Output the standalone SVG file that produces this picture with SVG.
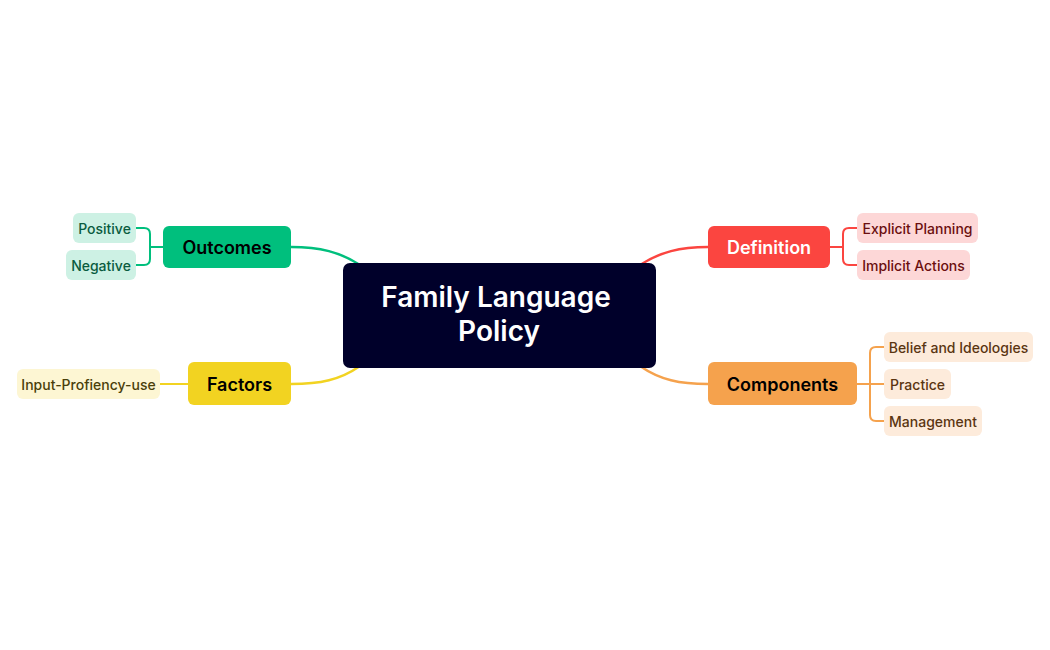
<svg xmlns="http://www.w3.org/2000/svg" width="1050" height="650" viewBox="0 0 1050 650">
<style>
text{font-family:Inter,"Noto Sans","Liberation Sans",sans-serif;text-anchor:middle;dominant-baseline:central}
.l1{font-size:18px;font-weight:600}
.l2{font-size:14px;font-weight:500}
.c{fill:none;stroke-width:2.5;stroke-linecap:round}
.s{fill:none;stroke-width:2}
</style>
<rect width="1050" height="650" fill="#fff"/>
<g id="connectors">
<path class="c" stroke="#00bf7d" d="M291,247 C320,247 340,252 360,265"/>
<path class="c" stroke="#fb4540" d="M708,247 C680,247 660,252 640,265"/>
<path class="c" stroke="#f2d321" d="M291,384 C320,384 340,380 360,366"/>
<path class="c" stroke="#f5a24d" d="M708,384 C680,384 660,380 640,366"/>
<path class="s" stroke="#00bf7d" d="M163,247 H150 M136,228 H144 Q150,228 150,234 V259 Q150,265 144,265 H136"/>
<path class="s" stroke="#fb4540" d="M830,247 H843 M857,228 H849 Q843,228 843,234 V259 Q843,265 849,265 H857"/>
<path class="s" stroke="#f5a24d" d="M857,384 H884 M884,347 H876 Q870,347 870,353 V415 Q870,421 876,421 H884"/>
<path class="s" stroke="#f2d321" d="M160,384 H188"/>
</g>
<g id="center"><rect x="343" y="263" width="313" height="105" rx="7" fill="#00002a"/>
<text x="496" y="297" fill="#fff" font-size="28" font-weight="600">Family Language</text>
<text x="499" y="331" fill="#fff" font-size="28" font-weight="600">Policy</text></g>
<g id="outcomes"><rect x="163" y="226" width="128" height="42" rx="6" fill="#00bf7d"/><text class="l1" x="227" y="247" fill="#000">Outcomes</text></g>
<g id="positive"><rect x="73" y="213" width="63" height="30" rx="6" fill="#cdf1e4"/><text class="l2" x="104.5" y="228" fill="#0a5c3f">Positive</text></g>
<g id="negative"><rect x="66" y="250" width="70" height="30" rx="6" fill="#cdf1e4"/><text class="l2" x="101" y="265" fill="#0a5c3f">Negative</text></g>
<g id="factors"><rect x="188" y="362" width="103" height="43" rx="6" fill="#f2d321"/><text class="l1" x="239.5" y="384" fill="#000">Factors</text></g>
<g id="input"><rect x="17" y="369" width="143" height="30" rx="6" fill="#fdf6d3"/><text class="l2" x="88.5" y="384" fill="#4a3f0a">Input-Profiency-use</text></g>
<g id="definition"><rect x="708" y="226" width="122" height="42" rx="6" fill="#fb4540"/><text class="l1" x="769" y="247" fill="#fff">Definition</text></g>
<g id="explicit"><rect x="857" y="213" width="121" height="30" rx="6" fill="#fdd7d7"/><text class="l2" x="917.5" y="228" fill="#6b0f0f">Explicit Planning</text></g>
<g id="implicit"><rect x="857" y="250" width="113" height="30" rx="6" fill="#fdd7d7"/><text class="l2" x="913.5" y="265" fill="#6b0f0f">Implicit Actions</text></g>
<g id="components"><rect x="708" y="362" width="149" height="43" rx="6" fill="#f5a24d"/><text class="l1" x="782.5" y="384" fill="#000">Components</text></g>
<g id="belief"><rect x="884" y="332" width="149" height="30" rx="6" fill="#fdebdb"/><text class="l2" x="958.5" y="347" fill="#5a3511">Belief and Ideologies</text></g>
<g id="practice"><rect x="884" y="369" width="67" height="30" rx="6" fill="#fdebdb"/><text class="l2" x="917.5" y="384" fill="#5a3511">Practice</text></g>
<g id="management"><rect x="884" y="406" width="98" height="30" rx="6" fill="#fdebdb"/><text class="l2" x="933" y="421" fill="#5a3511">Management</text></g>
</svg>
